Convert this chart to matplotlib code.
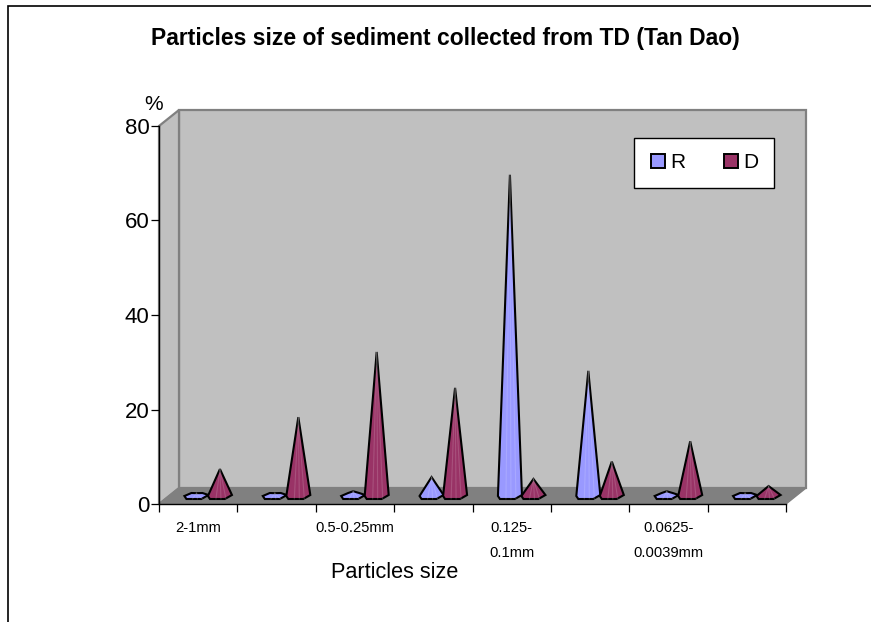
import matplotlib
matplotlib.use('Agg')
import matplotlib.pyplot as plt
from matplotlib.patches import Polygon, Rectangle
from matplotlib.lines import Line2D

plt.rcParams['font.family'] = ['Liberation Sans', 'DejaVu Sans']

# -------------------------------
# Data
# -------------------------------
categories = ['2-1mm', '', '0.5-0.25mm', '', '0.125-\n0.1mm', '', '0.0625-\n0.0039mm', '']
r_values = [0.6, 0.6, 1.0, 4.0, 68.0, 26.5, 1.0, 0.6]
d_values = [5.7, 16.7, 30.5, 22.9, 3.6, 7.3, 11.6, 2.1]
y_ticks = [0, 20, 40, 60, 80]

R_COLOR = '#9999FF'
D_COLOR = '#993366'
WALL = '#C0C0C0'
FLOOR = '#808080'

W, H = 871, 622
# front of the plot box in pixels
LEFT, RIGHT, TOP, BOTTOM = 159, 786, 126, 504

fig = plt.figure(figsize=(W / 100, H / 100), dpi=100)
ax = fig.add_axes([LEFT / W, 1 - BOTTOM / H, (RIGHT - LEFT) / W, (BOTTOM - TOP) / H])
ax.set_xlim(0, len(categories))
ax.set_ylim(0, 80)

# size of one pixel in data units
px = len(categories) / (RIGHT - LEFT)
py = 80 / (BOTTOM - TOP)
dx = 20 * px
dy = 16 * py

# outer chart frame, runs off the picture on the right and bottom
fig.add_artist(Rectangle((8 / W, -0.05), 1.1, 1.05 - 6 / H, transform=fig.transFigure,
                         fill=False, edgecolor='black', linewidth=1.2))

n = len(categories)
ax.add_patch(Polygon([(dx, dy), (n + dx, dy), (n + dx, 80 + dy), (dx, 80 + dy)],
                     facecolor=WALL, edgecolor=FLOOR, linewidth=1.6, clip_on=False, zorder=1))
ax.add_patch(Polygon([(0, 0), (dx, dy), (dx, 80 + dy), (0, 80)],
                     facecolor=WALL, edgecolor=FLOOR, linewidth=1.6, clip_on=False, zorder=1))
ax.add_patch(Polygon([(0, 0), (n, 0), (n + dx, dy), (dx, dy)],
                     facecolor=FLOOR, edgecolor=FLOOR, linewidth=1, clip_on=False, zorder=2))


def draw_cone(cx, value, color, z):
    base = 8 * py  # cones stand in the middle of the floor
    tip = (cx, value)
    left = (cx - 12 * px, 0)
    right = (cx + 12 * px, 1 * py)
    bl = (cx - 10 * px, -3 * py)
    br = (cx + 5 * px, -3 * py)
    if value / py < 6:
        pts = [left, (cx - 5 * px, 3 * py), tip, (cx + 6 * px, 3 * py), right, br, bl]
    else:
        pts = [left, tip, right, br, bl]
    # shift to the mid depth of the floor
    pts = [(x + dx / 2, y + base) for x, y in pts]
    ax.add_patch(Polygon(pts, closed=True, facecolor=color, edgecolor='black', linewidth=1.5,
                         joinstyle='miter', clip_on=False, zorder=z))
    # faint lighter streaks down the cone
    top = pts[1] if len(pts) == 5 else pts[2]
    for off in (-4, 1, 6):
        ax.plot([top[0], cx + dx / 2 + off * px], [top[1], base - 3 * py],
                color='white', alpha=0.15, linewidth=0.8, clip_on=False, zorder=z + 0.1)


for i in range(n):
    draw_cone(i + 0.5 - 0.15, r_values[i], R_COLOR, 3 + i * 0.01)
    draw_cone(i + 0.5 + 0.15, d_values[i], D_COLOR, 4 + i * 0.01)

# -------------------------------
# Axes, ticks and text
# -------------------------------
for name in ['top', 'right']:
    ax.spines[name].set_visible(False)
for name in ['left', 'bottom']:
    ax.spines[name].set_linewidth(1.0)
    ax.spines[name].set_zorder(5)
ax.patch.set_visible(False)

ax.set_yticks(y_ticks)
ax.tick_params(axis='y', labelsize=16, length=6, width=0.9, pad=1)
ax.set_xticks(range(n + 1))
ax.tick_params(axis='x', which='major', labelbottom=False, length=6, width=0.9)
ax.set_xticks([i + 0.5 for i in range(n)], minor=True)
ax.set_xticklabels(categories, minor=True, fontsize=10.6, linespacing=2.0, va='top')
ax.tick_params(axis='x', which='minor', length=0, pad=12.2)

ax.set_xlabel('Particles size', fontsize=15.6, labelpad=0, va='center')
ax.xaxis.set_label_coords((394.5 - LEFT) / (RIGHT - LEFT), -(572 - BOTTOM) / (BOTTOM - TOP))
fig.text(154 / W, 1 - 104 / H, '%', fontsize=15, ha='center', va='center')
fig.text(445 / W, 1 - 38 / H, 'Particles size of sediment collected from TD (Tan Dao)',
         fontsize=16.5, fontweight='bold', ha='center', va='center')

handles = [Line2D([], [], linestyle='none', marker='s', markersize=9.5, markerfacecolor=R_COLOR,
                  markeredgecolor='black', markeredgewidth=1.4, label='R'),
           Line2D([], [], linestyle='none', marker='s', markersize=9.5, markerfacecolor=D_COLOR,
                  markeredgecolor='black', markeredgewidth=1.4, label='D')]
leg = ax.legend(handles=handles, ncol=2, loc='center', fontsize=15,
                bbox_to_anchor=((704 - LEFT) / (RIGHT - LEFT), 1 - (163 - TOP) / (BOTTOM - TOP)),
                fancybox=False, framealpha=1, edgecolor='black', borderpad=0.76,
                handlelength=0.8, handletextpad=0.2, columnspacing=1.75, borderaxespad=0)
leg.set_zorder(6)
leg.get_frame().set_linewidth(1.0)

plt.savefig('out.png', dpi=100)
